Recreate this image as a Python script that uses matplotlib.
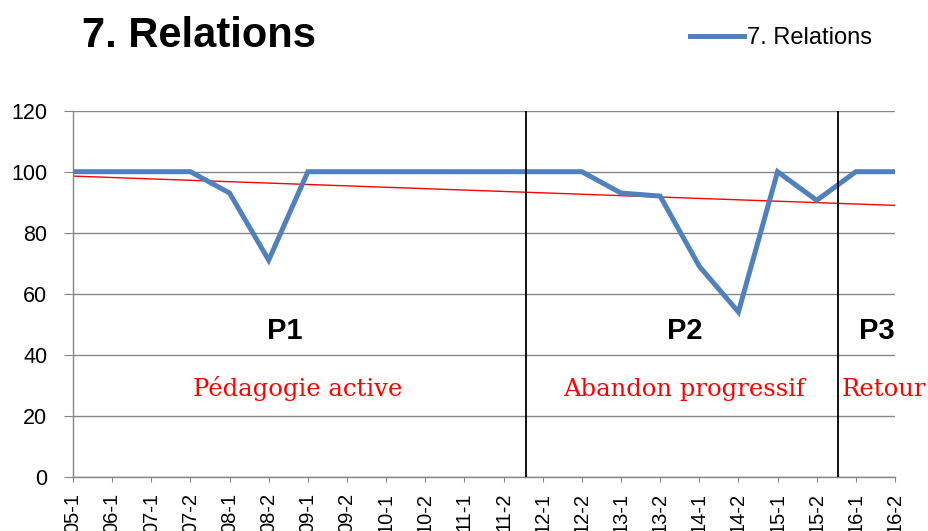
import numpy as np
import matplotlib
matplotlib.use("Agg")
import matplotlib.pyplot as plt

# semester labels and scores
periods = ["05-1", "06-1", "07-1", "07-2", "08-1", "08-2", "09-1", "09-2",
           "10-1", "10-2", "11-1", "11-2", "12-1", "12-2", "13-1", "13-2",
           "14-1", "14-2", "15-1", "15-2", "16-1", "16-2"]
relations = [100, 100, 100, 100, 93, 71, 100, 100, 100, 100, 100, 100,
             100, 100, 93, 92, 69, 54, 100, 90.6, 100, 100]
y_ticks = [0, 20, 40, 60, 80, 100, 120]

# phase boundaries (category positions) and annotations
phase_bounds = [11.58, 19.54]
phase_names = ["P1", "P2", "P3"]
phase_name_x = [5.42, 15.62, 20.54]
phase_desc = ["Pédagogie active", "Abandon progressif", "Retour"]
phase_desc_x = [5.73, 15.62, 19.64]

BLUE = "#4F81BD"
GREY = "#868686"

fig = plt.figure(figsize=(9.29, 5.31), dpi=100)
ax = fig.add_axes([73 / 929, 54.3 / 531, (895 - 73) / 929, (476.7 - 110.7) / 531])

x = np.arange(len(periods))
ax.plot(x, relations, color=BLUE, linewidth=3.6, solid_joinstyle="miter",
        label="7. Relations", zorder=3)

# linear trend line (Excel style)
slope, intercept = np.polyfit(x, relations, 1)
ax.plot(x, slope * x + intercept, color="red", linewidth=1.0, zorder=2)

for b in phase_bounds:
    ax.axvline(b, color="black", linewidth=1.3, zorder=4)

for name, px in zip(phase_names, phase_name_x):
    ax.text(px, 47.8, name, ha="center", va="center", fontsize=21,
            fontweight="bold", family=["Liberation Sans", "DejaVu Sans"])

for i, (desc, px) in enumerate(zip(phase_desc, phase_desc_x)):
    ha = "left" if i == 2 else "center"
    ax.text(px, 26.5, desc, ha=ha, va="baseline", fontsize=17.5,
            color="red", family="DejaVu Serif")

ax.set_xlim(0, len(periods) - 1)
ax.set_ylim(0, 120)
ax.set_xticks(x)
ax.set_xticklabels(periods, rotation=90, fontsize=14.5,
                   family=["Liberation Sans", "DejaVu Sans"])
ax.set_yticks(y_ticks)
ax.set_yticklabels([str(v) for v in y_ticks], fontsize=15.5,
                   family=["Liberation Sans", "DejaVu Sans"])
ax.tick_params(axis="x", direction="out", length=3.6, color=GREY, pad=8)
ax.tick_params(axis="y", direction="out", length=6.5, color=GREY, pad=12)

ax.grid(axis="y", color=GREY, linewidth=1.0)
ax.set_axisbelow(True)
for side in ["top", "right"]:
    ax.spines[side].set_visible(False)
for side in ["left", "bottom"]:
    ax.spines[side].set_color(GREY)
    ax.spines[side].set_linewidth(1.0)

fig.text(82 / 929, 1 - 36 / 531, "7. Relations", ha="left", va="center",
         fontsize=30, fontweight="bold",
         family=["Liberation Sans", "DejaVu Sans"])

fig.legend(loc="center left", bbox_to_anchor=(690 / 929, 1 - 38 / 531),
           frameon=False, borderpad=0, borderaxespad=0, handlelength=2.3,
           handletextpad=0.1, prop={"family": "Liberation Sans", "size": 17})

fig.savefig("out.png", dpi=100)
